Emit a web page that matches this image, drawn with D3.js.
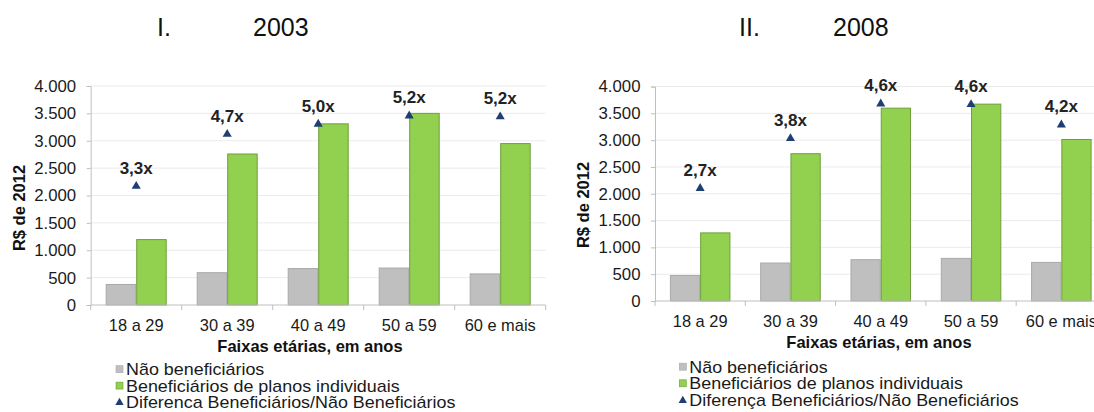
<!DOCTYPE html>
<html><head><meta charset="utf-8">
<script src="https://cdn.jsdelivr.net/npm/d3@7"></script>
<style>
body{margin:0;background:#fff}
svg{display:block}
text{font-family:"Liberation Sans",Arial,sans-serif}
</style>
</head><body>
<svg id="c" width="1094" height="412"></svg>
<script>
// ---------- data ----------
const categories = ["18 a 29","30 a 39","40 a 49","50 a 59","60 e mais"];
const yTicks = [0,500,1000,1500,2000,2500,3000,3500,4000];
const naoBenef2003 = [375,590,665,675,568];
const benefInd2003 = [1195,2758,3309,3500,2948];
const diferenca2003 = [2170,3120,3305,3455,3440];
const diferencaLabels2003 = ["3,3x","4,7x","5,0x","5,2x","5,2x"];
const naoBenef2008 = [475,708,770,795,720];
const benefInd2008 = [1270,2747,3596,3671,3012];
const diferenca2008 = [2100,3031,3677,3665,3286];
const diferencaLabels2008 = ["2,7x","3,8x","4,6x","4,6x","4,2x"];
const seriesKeys = ["nao","benef"];
const legend2003 = ["Não beneficiários","Beneficiários de planos individuais","Diferenca Beneficiários/Não Beneficiários"];
const legend2008 = ["Não beneficiários","Beneficiários de planos individuais","Diferença Beneficiários/Não Beneficiários"];
const yTitle = "R$ de 2012";
const xTitle = "Faixas etárias, em anos";

// ---------- styles / layout ----------
const C = {gray:"#BFBFBF", grayStroke:"#A9A9A9", green:"#92D050", greenStroke:"#6F9F3A", navy:"#1F3F73", axis:"#BFBFBF", grid:"#EBEBEB", text:"#1a1a1a"};
const loc = d3.formatLocale({decimal:",", thousands:".", grouping:[3], currency:["R$",""]});
const fmt = loc.format(",d");
const svg = d3.select("#c");

function panel(L, nao, benef, dif, difLabels, legendTexts, roman, year){
  const g = svg.append("g");
  const y = d3.scaleLinear().domain([0,4000]).range([L.bottom, L.top]);
  const xc = d3.scaleBand().domain(categories).range([L.left, L.right]).padding(0);
  const xb = d3.scaleBand().domain(categories).range([L.left, L.right]).paddingInner(30/91).paddingOuter(15/91);
  const xs = d3.scaleBand().domain(seriesKeys).range([0, xb.bandwidth()]);

  // titles
  g.append("text").attr("x",L.romanX).attr("y",L.titleY).attr("font-family","Lato").attr("font-size",25).attr("fill","#111").text(roman);
  g.append("text").attr("x",L.yearX).attr("y",L.titleY).attr("font-family","Lato").attr("font-size",25).attr("fill","#111").text(year);

  // grid
  g.append("g").selectAll("line").data(yTicks.filter(d=>d>0)).join("line")
    .attr("x1",L.left).attr("x2",L.right).attr("y1",d=>y(d)).attr("y2",d=>y(d))
    .attr("stroke",C.grid).attr("stroke-width",1);

  // y axis
  const ya = g.append("g").attr("transform",`translate(${L.left},0)`)
    .call(d3.axisLeft(y).tickValues(yTicks).tickFormat(fmt).tickSize(4).tickPadding(10.5));
  ya.select(".domain").attr("stroke",C.axis);
  ya.selectAll(".tick line").attr("stroke",C.axis);
  ya.selectAll(".tick text").attr("font-size",16.8).attr("fill",C.text).attr("font-family","Liberation Sans");

  // bars
  const rows = categories.map((c,i)=>({c, nao:nao[i], benef:benef[i], dif:dif[i], lab:difLabels[i]}));
  const grp = g.append("g").selectAll("g").data(rows).join("g").attr("transform",d=>`translate(${xb(d.c)},0)`);
  grp.selectAll("rect").data(d=>seriesKeys.map(k=>({k, v:d[k]}))).join("rect")
    .attr("x",d=>xs(d.k)+0.5).attr("width",xs.bandwidth()-1)
    .attr("y",d=>y(d.v)).attr("height",d=>L.bottom - y(d.v))
    .attr("fill",d=>d.k==="nao"?C.gray:C.green)
    .attr("stroke",d=>d.k==="nao"?C.grayStroke:C.greenStroke).attr("stroke-width",1);

  // x axis
  const xa = g.append("g").attr("transform",`translate(0,${L.bottom})`)
    .call(d3.axisBottom(xc).tickSize(0).tickPadding(14));
  xa.select(".domain").remove();
  xa.selectAll(".tick text").attr("font-size",16.4).attr("fill",C.text).attr("font-family","Liberation Sans");
  g.append("line").attr("x1",L.left).attr("x2",L.right).attr("y1",L.bottom).attr("y2",L.bottom).attr("stroke",C.axis);
  const bounds = categories.map(c=>xc(c)).concat([L.right]);
  g.append("g").selectAll("line").data(bounds).join("line")
    .attr("x1",d=>d).attr("x2",d=>d).attr("y1",L.bottom).attr("y2",L.bottom+5).attr("stroke",C.axis);

  // triangles + labels
  const cx = d=>xc(d.c)+xc.bandwidth()/2;
  g.append("g").selectAll("path").data(rows).join("path")
    .attr("d",d3.symbol(d3.symbolTriangle,36))
    .attr("transform",d=>`translate(${cx(d)},${y(d.dif)})`).attr("fill",C.navy);
  g.append("g").selectAll("text").data(rows).join("text")
    .attr("x",cx).attr("y",d=>y(d.dif)-12.5).attr("text-anchor","middle")
    .attr("font-size",17).attr("font-weight","bold").attr("fill","#222").text(d=>d.lab);

  // axis titles
  g.append("text").attr("transform",`translate(${L.yTitleX},${L.yTitleY}) rotate(-90)`)
    .attr("text-anchor","middle").attr("font-size",16.5).attr("font-weight","bold").attr("fill","#111").text(yTitle);
  g.append("text").attr("x",L.xTitleX).attr("y",L.xTitleY).attr("text-anchor","middle")
    .attr("font-size",16.5).attr("font-weight","bold").attr("fill","#111").text(xTitle);

  // legend
  const lg = g.append("g").selectAll("g").data(legendTexts).join("g")
    .attr("transform",(d,i)=>`translate(${L.legX},${L.legY[i]})`);
  lg.each(function(d,i){
    const s = d3.select(this);
    if(i<2){
      s.append("rect").attr("x",0).attr("y",-9.5).attr("width",7).attr("height",7)
        .attr("fill",i===0?C.gray:C.green).attr("stroke",i===0?C.grayStroke:C.greenStroke).attr("stroke-width",0.6);
    } else {
      s.append("path").attr("d",d3.symbol(d3.symbolTriangle,30)).attr("transform","translate(3.5,-5.5)").attr("fill",C.navy);
    }
    s.append("text").attr("transform","translate(10,0) scale(1.12,1)").attr("font-size",16).attr("fill",C.text).text(d);
  });
}

panel({left:90.7,right:545.7,top:86,bottom:305,titleY:36,romanX:157,yearX:253,yTitleX:24.5,yTitleY:208,xTitleX:310,xTitleY:352,legX:116,legY:[375.2,391.6,408]},
  naoBenef2003, benefInd2003, diferenca2003, diferencaLabels2003, legend2003, "I.", "2003");
panel({left:655,right:1106.5,top:86.5,bottom:301,titleY:36,romanX:739,yearX:833,yTitleX:588.8,yTitleY:205,xTitleX:879,xTitleY:348,legX:679.3,legY:[372.7,389.3,406]},
  naoBenef2008, benefInd2008, diferenca2008, diferencaLabels2008, legend2008, "II.", "2008");
</script>
</body></html>
